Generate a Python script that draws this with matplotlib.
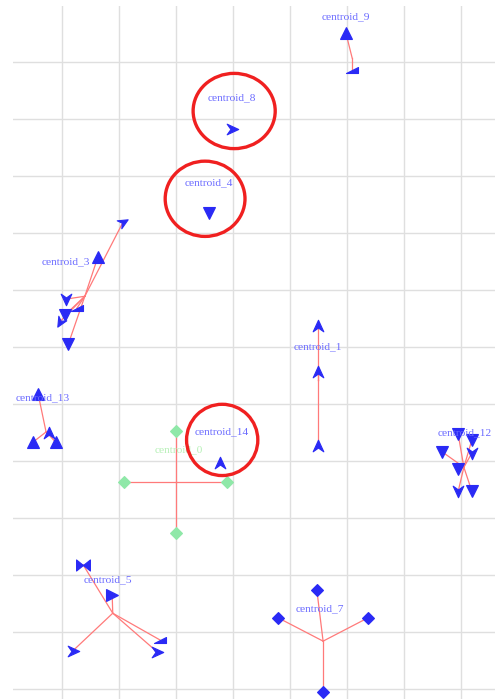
import numpy as np
import matplotlib
matplotlib.use("Agg")
import matplotlib.pyplot as plt
from matplotlib.path import Path
from matplotlib.patches import Ellipse

# cluster names, where the name is written and where the member edges meet
names = ["centroid_9", "centroid_8", "centroid_4", "centroid_3", "centroid_13", "centroid_1",
         "centroid_12", "centroid_0", "centroid_14", "centroid_5", "centroid_7"]
label_x = [4.98, 2.98, 2.58, 0.07, -0.33, 4.49, 7.07, 2.04, 2.81, 0.81, 4.53]
label_y = [-0.79, 0.63, 2.12, 3.51, 5.89, 5.00, 6.51, 6.81, 6.49, 9.09, 9.60]
hub_x = [5.09, 2.98, 2.58, 0.40, -0.28, 4.49, 7.05, 2.00, 2.77, 0.89, 4.58]
hub_y = [-0.07, 1.18, 2.65, 4.11, 6.49, 5.58, 7.11, 7.37, 7.04, 9.67, 10.16]

# member points: owning cluster, position and marker kind
member_cluster = [0, 0,
                  1,
                  2,
                  3, 3, 3, 3, 3, 3, 3,
                  4, 4, 4, 4,
                  5, 5, 5,
                  6, 6, 6, 6, 6, 6, 6,
                  7, 7, 7, 7,
                  8,
                  9, 9, 9, 9, 9,
                  10, 10, 10, 10]
member_x = [4.98, 5.09,
            2.98,
            2.58,
            1.07, 0.63, 0.07, 0.26, 0.05, -0.04, 0.11,
            -0.42, -0.51, -0.23, -0.11,
            4.49, 4.49, 4.49,
            6.95, 7.19, 7.19, 6.67, 6.95, 6.95, 7.19,
            2.00, 1.09, 2.89, 2.00,
            2.77,
            0.37, 0.88, 1.72, 1.67, 0.19,
            4.47, 3.79, 5.37, 4.58]
member_y = [-0.51, 0.14,
            1.18,
            2.65,
            2.81, 3.42, 4.16, 4.32, 4.44, 4.56, 4.95,
            5.82, 6.67, 6.51, 6.67,
            4.63, 5.44, 6.74,
            6.53, 6.63, 6.86, 6.84, 7.14, 7.53, 7.53,
            6.47, 7.37, 7.37, 8.26,
            7.04,
            8.82, 9.35, 10.14, 10.35, 10.33,
            9.26, 9.75, 9.75, 11.05]
member_marker = ["^", "wedge",
                 "arrow_r",
                 "v",
                 "arrow_ur", "^", "arrow_d", "wedge", "v", "arrow_dl", "v",
                 "^", "^", "arrow_u", "^",
                 "arrow_u", "arrow_u", "arrow_u",
                 "v", "v", "arrow_d", "v", "v", "arrow_d", "v",
                 "D", "D", "D", "D",
                 "arrow_u",
                 "bowtie", ">", "wedge", "arrow_r", "arrow_r",
                 "D", "D", "D", "D"]

# highlighted clusters (centre x, centre y, width, height)
ring_x = [3.02, 2.51, 2.81]
ring_y = [0.86, 2.40, 6.63]
ring_w = [1.44, 1.40, 1.25]
ring_h = [1.32, 1.32, 1.25]

BLUE = "#2a2af5"
GREEN = "#8fe8a8"
EDGE = "#ff7a7a"


def arrow_marker(angle):
    # notched arrow head pointing up, rotated by angle (degrees, counter-clockwise)
    pts = np.array([[0, 1], [0.85, -0.85], [0, -0.25], [-0.85, -0.85], [0, 1]])
    a = np.deg2rad(angle)
    rot = np.array([[np.cos(a), -np.sin(a)], [np.sin(a), np.cos(a)]])
    pts = pts @ rot.T
    return Path(pts, closed=True)


bowtie = Path([[-1, 0.8], [0, 0], [-1, -0.8], [-1, 0.8],
               [1, 0.8], [0, 0], [1, -0.8], [1, 0.8]],
              [Path.MOVETO, Path.LINETO, Path.LINETO, Path.CLOSEPOLY,
               Path.MOVETO, Path.LINETO, Path.LINETO, Path.CLOSEPOLY])

markers = {
    "arrow_u": arrow_marker(0),
    "arrow_d": arrow_marker(180),
    "arrow_r": arrow_marker(-90),
    "arrow_ur": arrow_marker(-60),
    "arrow_dl": arrow_marker(150),
    "wedge": Path([[-1, -0.6], [1, -0.6], [1, 0.6], [-1, -0.6]], closed=True),
    "bowtie": bowtie,
}
sizes = {"v": 8, "^": 8, ">": 8, "D": 6, "wedge": 8, "bowtie": 10}

fig = plt.figure(figsize=(4.95, 6.99), dpi=100)
ax = fig.add_axes([13 / 495, 0, 1 - 13 / 495, 1 - 6 / 699])
ax.set_xlim(-0.86, 7.596)
ax.set_ylim(11.175, -0.982)
ax.set_xticks(range(0, 8))
ax.set_yticks(range(0, 12))
ax.grid(True, color="#dfdfdf", lw=1.0)
ax.tick_params(length=0, labelbottom=False, labelleft=False)
for s in ax.spines.values():
    s.set_visible(False)
ax.set_axisbelow(True)

# edges from each hub to its members
for c, x, y in zip(member_cluster, member_x, member_y):
    ax.plot([hub_x[c], x], [hub_y[c], y], color=EDGE, lw=0.9, zorder=2)

for c, x, y, m in zip(member_cluster, member_x, member_y, member_marker):
    col = GREEN if names[c] == "centroid_0" else BLUE
    ax.plot(x, y, marker=markers.get(m, m), ms=sizes.get(m, 9), color=col,
            mec=col, mew=0.8, ls="none", zorder=3)

for name, x, y in zip(names, label_x, label_y):
    col = "#b6f0b6" if name == "centroid_0" else "#6b6bff"
    ax.text(x, y, name, color=col, fontsize=8.2, family="Liberation Serif",
            ha="center", va="center", zorder=4)

for x, y, w, h in zip(ring_x, ring_y, ring_w, ring_h):
    ax.add_patch(Ellipse((x, y), w, h, fill=False, ec="#f02020", lw=2.4, zorder=5))

fig.savefig("out.png", dpi=100)
